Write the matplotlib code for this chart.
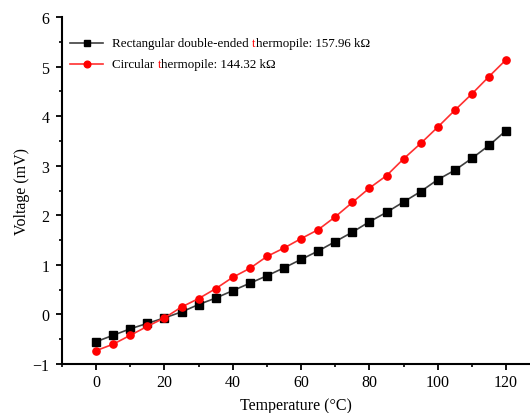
import matplotlib
matplotlib.use("Agg")
import matplotlib.pyplot as plt
from matplotlib.lines import Line2D
from matplotlib.offsetbox import (AnchoredOffsetbox, DrawingArea, HPacker,
                                  TextArea, VPacker)
from matplotlib.ticker import MultipleLocator

plt.rcParams["font.family"] = ["Liberation Serif", "DejaVu Serif"]

temperature = [0, 5, 10, 15, 20, 25, 30, 35, 40, 45, 50, 55, 60,
               65, 70, 75, 80, 85, 90, 95, 100, 105, 110, 115, 120]
rect_voltage = [-0.55, -0.42, -0.29, -0.18, -0.07, 0.05, 0.20, 0.33, 0.48,
                0.63, 0.78, 0.94, 1.11, 1.28, 1.47, 1.66, 1.87, 2.06, 2.27,
                2.48, 2.72, 2.91, 3.15, 3.41, 3.71]
circ_voltage = [-0.73, -0.60, -0.42, -0.24, -0.07, 0.15, 0.32, 0.52, 0.75,
                0.93, 1.17, 1.34, 1.53, 1.71, 1.97, 2.26, 2.55, 2.80, 3.14,
                3.45, 3.78, 4.12, 4.45, 4.80, 5.14]

series = [
    (rect_voltage, "#000000", "#404040", "s",
     ["Rectangular double-ended ", "t", "hermopile: 157.96 k\u03a9"]),
    (circ_voltage, "#ff0000", "#ff3030", "o",
     ["Circular ", "t", "hermopile: 144.32 k\u03a9"]),
]

fig = plt.figure(figsize=(5.30, 4.14), dpi=100)
ax = fig.add_axes([0.117, 0.1184, 0.883, 0.838])

for vals, mcolor, lcolor, marker, _ in series:
    ax.plot(temperature, vals, color=lcolor, lw=1.2, marker=marker,
            markersize=5.2, markerfacecolor=mcolor, markeredgecolor=mcolor)

ax.set_xlim(-10, 127)
ax.set_ylim(-1, 6)
ax.xaxis.set_major_locator(MultipleLocator(20))
ax.xaxis.set_minor_locator(MultipleLocator(10))
ax.yaxis.set_major_locator(MultipleLocator(1))
ax.yaxis.set_minor_locator(MultipleLocator(0.5))
ax.spines["top"].set_visible(False)
ax.spines["right"].set_visible(False)
for s in ("left", "bottom"):
    ax.spines[s].set_linewidth(1.5)
ax.tick_params(which="major", direction="out", length=4, width=1.3,
               labelsize=11.5, pad=3)
ax.tick_params(which="minor", direction="out", length=2.5, width=1.2)
ax.tick_params(axis="y", which="major", pad=5)
ax.set_yticks(range(-1, 7))
ax.set_yticklabels(["\u22121"] + [str(v) for v in range(0, 7)])
ax.set_xlabel("Temperature (\u00b0C)", fontsize=11.5, labelpad=5)
ax.set_ylabel("Voltage (mV)", fontsize=11.5, labelpad=2)

# legend built by hand so that the "t" can be red
rows = []
for vals, mcolor, lcolor, marker, parts in series:
    da = DrawingArea(24, 10, 0, 0)
    da.add_artist(Line2D([0, 24], [5, 5], color=lcolor, lw=1.2))
    da.add_artist(Line2D([12], [5], marker=marker, markersize=4.8,
                         color=mcolor, markerfacecolor=mcolor))
    texts = []
    for p, c in zip(parts, ["#000000", "#ff0000", "#000000"]):
        texts.append(TextArea(p, textprops=dict(color=c, fontsize=9.4)))
    label = HPacker(children=texts, sep=0, pad=0, align="baseline")
    rows.append(HPacker(children=[da, label], sep=6.5, pad=0, align="center"))
box = VPacker(children=rows, sep=5, pad=0, align="left")
anchored = AnchoredOffsetbox(loc="upper left", child=box, frameon=False,
                             bbox_to_anchor=(0.017, 0.945), pad=0,
                             bbox_transform=ax.transAxes, borderpad=0)
ax.add_artist(anchored)

fig.savefig("out.png", dpi=100)
